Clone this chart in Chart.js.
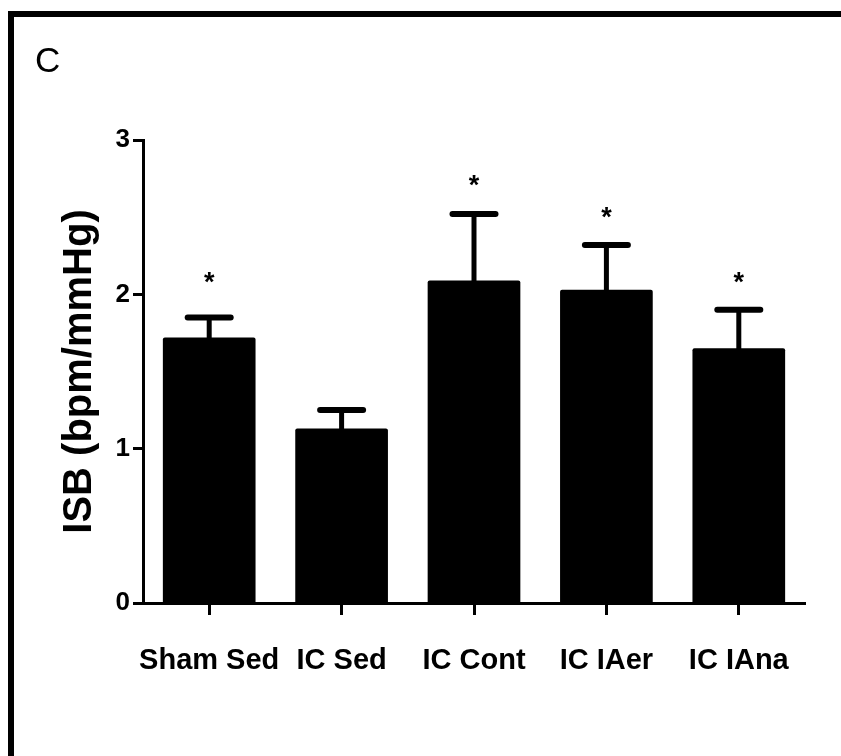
<!DOCTYPE html>
<html>
<head>
<meta charset="utf-8">
<script src="https://cdn.jsdelivr.net/npm/chart.js@4"></script>
<style>
  html, body { margin: 0; padding: 0; background: #fff; }
  #wrap { width: 841px; height: 756px; position: relative; }
</style>
</head>
<body>
<div id="wrap"><canvas id="c" width="841" height="756"></canvas></div>
<script>
// ---- data ----
const categories = ['Sham Sed', 'IC Sed', 'IC Cont', 'IC IAer', 'IC IAna'];
const means = [1.72, 1.13, 2.09, 2.03, 1.65];
const errors = [0.13, 0.12, 0.43, 0.29, 0.25];
const asteriskLevels = [2.12, null, 2.75, 2.54, 2.12]; // marker centre, data units
const yTickValues = [0, 1, 2, 3];
const panelLetter = 'C';
const yTitle = 'ISB (bpm/mmHg)';

const FONT = "'Liberation Sans', Arial, Helvetica, sans-serif";

const framePlugin = {
  id: 'frame',
  beforeDraw(chart) {
    const ctx = chart.ctx;
    ctx.save();
    ctx.fillStyle = '#fff';
    ctx.fillRect(0, 0, chart.width, chart.height);
    ctx.fillStyle = '#000';
    ctx.fillRect(8, 11, chart.width - 8, 6);
    ctx.fillRect(8, 11, 6, chart.height - 11);
    ctx.font = '35px ' + FONT;
    ctx.textBaseline = 'alphabetic';
    ctx.textAlign = 'left';
    ctx.fillText(panelLetter, 35, 72);
    ctx.restore();
  }
};

const errorPlugin = {
  id: 'errbars',
  afterDatasetsDraw(chart) {
    const ctx = chart.ctx;
    const meta = chart.getDatasetMeta(0);
    const y = chart.scales.y;
    ctx.save();
    ctx.strokeStyle = '#000';
    ctx.fillStyle = '#000';
    meta.data.forEach((bar, i) => {
      const x = bar.x;
      const yTop = y.getPixelForValue(means[i]);
      const yCap = y.getPixelForValue(means[i] + errors[i]);
      ctx.lineCap = 'butt';
      ctx.lineWidth = 5;
      ctx.beginPath();
      ctx.moveTo(x, yTop + 1);
      ctx.lineTo(x, yCap);
      ctx.stroke();
      ctx.lineCap = 'round';
      ctx.lineWidth = 6;
      ctx.beginPath();
      ctx.moveTo(x - 21.5, yCap);
      ctx.lineTo(x + 21.5, yCap);
      ctx.stroke();
      if (asteriskLevels[i] !== null) {
        const ya = y.getPixelForValue(asteriskLevels[i]);
        ctx.font = 'bold 27px ' + FONT;
        ctx.textAlign = 'center';
        ctx.textBaseline = 'alphabetic';
        ctx.fillText('*', x, ya + 15.5);
      }
    });
    ctx.restore();
  }
};

new Chart(document.getElementById('c'), {
  type: 'bar',
  data: {
    labels: categories,
    datasets: [{
      data: means,
      backgroundColor: '#000',
      borderWidth: 0,
      borderRadius: 2,
      borderSkipped: 'bottom',
      categoryPercentage: 1.0,
      barPercentage: 0.70
    }]
  },
  options: {
    responsive: false,
    animation: false,
    events: [],
    layout: { padding: { top: 140, right: 36, left: 0, bottom: 0 } },
    plugins: {
      legend: { display: false },
      tooltip: { enabled: false },
      title: { display: false }
    },
    scales: {
      x: {
        offset: true,
        grid: {
          display: true,
          drawOnChartArea: false,
          drawTicks: true,
          tickLength: 12,
          tickWidth: 3,
          tickColor: '#000',
          offset: false
        },
        border: { display: true, color: '#000', width: 3 },
        ticks: {
          color: '#000',
          font: { family: FONT, size: 29, weight: 'bold' },
          padding: 29,
          maxRotation: 0,
          autoSkip: false
        },
        afterFit(scale) { scale.height = 153; }
      },
      y: {
        min: 0,
        max: 3,
        afterBuildTicks(scale) { scale.ticks = yTickValues.map(v => ({ value: v })); },
        grid: {
          display: true,
          drawOnChartArea: false,
          drawTicks: true,
          tickLength: 10,
          tickWidth: 3,
          tickColor: '#000'
        },
        border: { display: true, color: '#000', width: 3 },
        ticks: {
          color: '#000',
          font: { family: FONT, size: 26, weight: 'bold' },
          padding: 3
        },
        title: {
          display: true,
          text: yTitle,
          color: '#000',
          font: { family: FONT, size: 40, weight: 'bold' },
          padding: { top: 56, bottom: 0 }
        },
        afterFit(scale) { scale.width = 143; }
      }
    }
  },
  plugins: [framePlugin, errorPlugin]
});
</script>
</body>
</html>
